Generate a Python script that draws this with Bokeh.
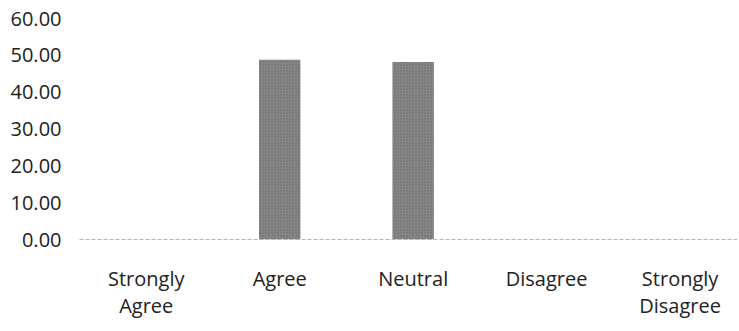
from bokeh.plotting import figure
from bokeh.models import FixedTicker, ColumnDataSource
from bokeh.embed import file_html
from bokeh.resources import INLINE

categories = ["Strongly\nAgree", "Agree", "Neutral", "Disagree", "Strongly\nDisagree"]
values = [0.0, 48.8, 48.2, 0.0, 0.0]
y_ticks = [0, 10, 20, 30, 40, 50, 60]

xs = list(range(len(categories)))
src = ColumnDataSource(dict(x=xs, top=values))

p = figure(width=737, height=329, output_backend="svg", toolbar_location=None,
           x_range=(-0.5, 4.43), y_range=(0, 60),
           min_border_left=79, min_border_right=0, min_border_top=18, min_border_bottom=90)
p.outline_line_color = None
p.background_fill_color = "white"
p.border_fill_color = "white"
p.xgrid.visible = False
p.ygrid.visible = False

p.vbar(x="x", top="top", width=0.31, bottom=0, source=src,
       fill_color="#868686", line_color=None,
       hatch_pattern=".", hatch_color="#555555", hatch_scale=3, hatch_alpha=0.6)

font = "Open Sans"
p.yaxis.ticker = FixedTicker(ticks=y_ticks)
p.yaxis.major_label_overrides = {t: f"{t:.2f}" for t in y_ticks}
p.yaxis.axis_line_color = None
p.yaxis.major_tick_line_color = None
p.yaxis.minor_tick_line_color = None
p.yaxis.major_label_text_font = font
p.yaxis.major_label_text_font_size = "20px"
p.yaxis.major_label_text_color = "#222222"
p.yaxis.major_label_standoff = 12

p.xaxis.ticker = FixedTicker(ticks=xs)
p.xaxis.major_label_overrides = {i: c for i, c in zip(xs, categories)}
p.xaxis.axis_line_color = "#b5b5b5"
p.xaxis.axis_line_dash = "4 2"
p.xaxis.axis_line_width = 1
p.xaxis.major_tick_line_color = None
p.xaxis.minor_tick_line_color = None
p.xaxis.major_label_text_font = font
p.xaxis.major_label_text_font_size = "20px"
p.xaxis.major_label_text_line_height = 1.0
p.xaxis.major_label_text_color = "#222222"
p.xaxis.major_label_standoff = 19

open("out.html", "w").write(file_html(p, INLINE))
